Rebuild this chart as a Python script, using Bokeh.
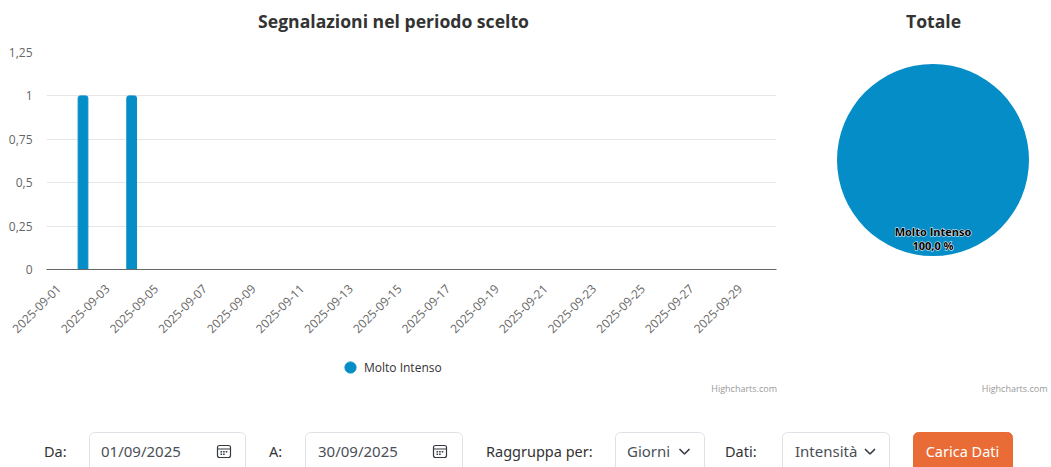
import math
from bokeh.embed import file_html
from bokeh.resources import INLINE
from bokeh.plotting import figure
from bokeh.layouts import column, row
from bokeh.models import (ColumnDataSource, FixedTicker, Range1d, Legend, LegendItem)
from bokeh.core.properties import value

dates = [f"2025-09-{d:02d}" for d in range(1, 31)]
molto_intenso = [0, 1, 0, 1] + [0] * 26
series_name = "Molto Intenso"
y_ticks = [0, 0.25, 0.5, 0.75, 1, 1.25]
y_labels = ["0", "0,25", "0,5", "0,75", "1", "1,25"]
pie_values = [100.0]
pie_label = ["Molto Intenso", "100,0 %"]
titles = ["Segnalazioni nel periodo scelto", "Totale"]
BLUE = "#058DC7"
FONT = "Open Sans"
UI = "Noto Sans"

# ---------- header with both titles
h = figure(width=1051, height=40, output_backend="svg", toolbar_location=None,
           x_range=Range1d(0, 1051), y_range=Range1d(40, 0), min_border=0)
h.axis.visible = False
h.grid.visible = False
h.outline_line_color = None
h.text(x=[393, 933], y=[20, 20], text=titles, text_font=value(FONT), text_font_size="17.6px",
       text_font_style="bold", text_color="#333333", text_align="center", text_baseline="middle")

# ---------- bar chart
idx = list(range(len(dates)))
p = figure(width=815, height=305, output_backend="svg", toolbar_location=None,
           x_range=Range1d(-0.5, 29.5), y_range=Range1d(0, 1.25),
           min_border_left=46, min_border_right=39, min_border_top=12, min_border_bottom=76)
p.outline_line_color = None
p.xgrid.visible = False
p.ygrid.grid_line_color = "#e6e6e6"
p.ygrid.ticker = FixedTicker(ticks=y_ticks)
p.yaxis.ticker = FixedTicker(ticks=y_ticks)
p.yaxis.major_label_overrides = dict(zip(y_ticks, y_labels))
p.yaxis.axis_line_color = None
p.yaxis.major_tick_line_color = None
p.yaxis.minor_tick_line_color = None
p.yaxis.major_label_standoff = 8
p.yaxis.major_label_text_font = FONT
p.yaxis.major_label_text_font_size = "12px"
p.yaxis.major_label_text_color = "#666666"
p.xaxis.ticker = FixedTicker(ticks=idx[::2])
p.xaxis.major_label_overrides = {i: dates[i] for i in idx[::2]}
p.xaxis.major_label_orientation = math.pi / 4
p.xaxis.major_label_standoff = 11
p.xaxis.major_label_text_font = FONT
p.xaxis.major_label_text_font_size = "12px"
p.xaxis.major_label_text_color = "#666666"
p.xaxis.axis_line_color = "#666666"
p.xaxis.axis_line_width = 1
p.xaxis.major_tick_line_color = None
p.xaxis.minor_tick_line_color = None
src = ColumnDataSource(dict(x=idx, y=molto_intenso))
p.vbar(x="x", top="y", width=0.4, source=src, color=BLUE, border_radius=(2, 2, 0, 0))

# ---------- pie chart
q = figure(width=236, height=305, output_backend="svg", toolbar_location=None,
           x_range=Range1d(815, 1051), y_range=Range1d(269, 52),
           min_border_left=0, min_border_right=0, min_border_top=12, min_border_bottom=76)
q.axis.visible = False
q.grid.visible = False
q.outline_line_color = None
total = sum(pie_values)
q.wedge(x=[932.5], y=[159.5], radius=96, radius_units="screen",
        start_angle=[0], end_angle=[2 * math.pi * pie_values[0] / total],
        fill_color=BLUE, line_color=None)
for kw in (dict(text_outline_color="#ffffff"), dict()):
    q.text(x=[932.5, 932.5], y=[231, 245], text=pie_label, text_font=value(FONT), text_font_size="11px",
           text_font_style="bold", text_color="#000000", text_align="center", text_baseline="middle", **kw)

# ---------- legend, credits and control row
c = figure(width=1051, height=122, output_backend="svg", toolbar_location=None,
           x_range=Range1d(0, 1051), y_range=Range1d(467, 345),
           min_border=0)
c.axis.visible = False
c.grid.visible = False
c.outline_line_color = None
marker = c.scatter(x=[-50], y=[-50], size=12, color=BLUE)
legend = Legend(items=[LegendItem(label=series_name, renderers=[marker])],
                location=(336, 86), border_line_color=None, background_fill_alpha=0,
                label_text_font=FONT, label_text_font_size="12px", label_text_color="#333333",
                glyph_width=28, glyph_height=28, padding=0, margin=0, label_standoff=0, label_height=14)
c.add_layout(legend, "center")
c.text(x=[776.5, 1047], y=[388, 388], text=["Highcharts.com", "Highcharts.com"], text_font=value(FONT),
       text_font_size="9px", text_color="#999999", text_align="right", text_baseline="middle")
box_l = [89, 305, 615, 782]
box_r = [245, 462, 704, 889]
c.quad(left=box_l, right=box_r, top=[432] * 4, bottom=[490] * 4, fill_color="white",
       line_color="#dee2e6", border_radius=5)
c.quad(left=[913], right=[1012], top=[432], bottom=[490], fill_color="#E96B35",
       line_color="#E96B35", border_radius=5)
lab_x = [43.5, 268.5, 485.5, 724.5]
lab_t = ["Da:", "A:", "Raggruppa per:", "Dati:"]
c.text(x=lab_x, y=[450] * 4, text=lab_t, text_font=value(UI), text_font_size="14.5px",
       text_color="#333333", text_baseline="middle")
val_x = [100.5, 317.5, 626.5, 794.5]
val_t = ["01/09/2025", "30/09/2025", "Giorni", "Intensità"]
c.text(x=val_x, y=[450] * 4, text=val_t, text_font=value(UI), text_font_size="15px",
       text_color="#495057", text_baseline="middle")
c.text(x=[962], y=[450], text=["Carica Dati"], text_font=value(UI), text_font_size="14.5px",
       text_color="#ffffff", text_align="center", text_baseline="middle")
# chevrons
for cx in (684, 869.5):
    c.line(x=[cx - 5, cx, cx + 5], y=[448.5, 453.5, 448.5], line_color="#343a40", line_width=1.6)
# calendar icons
for ix in (217, 433):
    c.quad(left=[ix], right=[ix + 13], top=[445], bottom=[457], fill_color="white",
           line_color="#343a40", line_width=1.2, border_radius=2)
    c.line(x=[ix, ix + 13], y=[448.5, 448.5], line_color="#343a40", line_width=1.2)
    c.quad(left=[ix + 3, ix + 5.6, ix + 8.2, ix + 3, ix + 5.6],
           right=[ix + 4.6, ix + 7.2, ix + 9.8, ix + 4.6, ix + 7.2],
           top=[450.5, 450.5, 450.5, 453, 453], bottom=[452, 452, 452, 454.5, 454.5],
           fill_color="#343a40", line_color=None)

page = column(h, row(p, q, spacing=0), c, spacing=0)
open("out.html", "w").write(file_html(page, INLINE))
